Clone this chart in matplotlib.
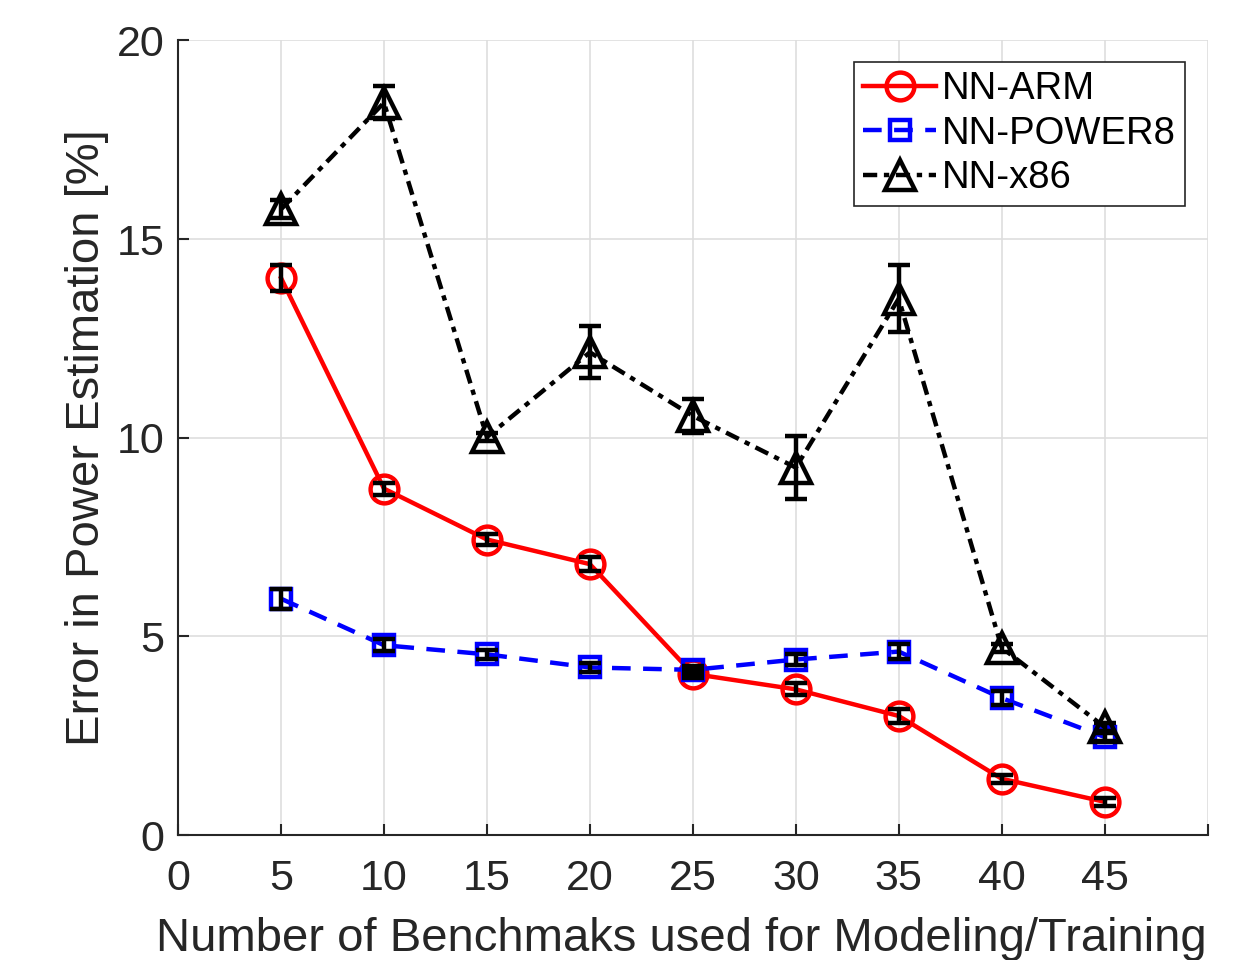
import numpy as np
import matplotlib.pyplot as plt

plt.rcParams['font.family'] = ['Liberation Sans', 'DejaVu Sans']

# number of benchmarks used
n_bench = [5, 10, 15, 20, 25, 30, 35, 40, 45]

# NN-ARM
arm = [14.02, 8.72, 7.44, 6.82, 4.06, 3.67, 3.0, 1.42, 0.84]
arm_err = [0.32, 0.15, 0.15, 0.18, 0.1, 0.15, 0.18, 0.1, 0.1]

# NN-POWER8
power8 = [5.95, 4.78, 4.55, 4.22, 4.16, 4.42, 4.62, 3.45, 2.47]
power8_err = [0.25, 0.15, 0.12, 0.12, 0.1, 0.15, 0.18, 0.18, 0.1]

# NN-x86
x86 = [15.75, 18.43, 10.02, 12.15, 10.55, 9.25, 13.5, 4.72, 2.72]
x86_err = [0.22, 0.42, 0.1, 0.65, 0.42, 0.8, 0.85, 0.1, 0.1]

TXT = '#262626'

def makePlot():
    fig = plt.figure(figsize=(12.54, 9.6), dpi=100)
    ax = fig.add_axes([0.142, 0.130, 0.821, 0.828])

    series = [
        (arm, arm_err, 'NN-ARM', (1, 0, 0), 'o', (None, None), 20),
        (power8, power8_err, 'NN-POWER8', (0, 0, 1), 's', (4.2, 2.8), 15),
        (x86, x86_err, 'NN-x86', 'k', '^', (3.2, 1.5, 1.2, 1.5), 21),
    ]
    handles = []
    for y, e, name, col, mk, dash, ms in series:
        line, = ax.plot(n_bench, y, color=col, lw=3.2, marker=mk, ms=ms,
                        mfc='none', mec=col, mew=3.2, label=name, zorder=3)
        if dash[0] is not None:
            line.set_dashes(dash)
        ax.errorbar(n_bench, y, yerr=e, fmt='none', ecolor='k',
                    elinewidth=3.2, capsize=8, capthick=3.2, zorder=4)
        handles.append(line)

    ax.set_xlim(0, 50)
    ax.set_ylim(0, 20)
    ax.set_xticks(np.arange(0, 51, 5))
    ax.set_xticklabels([str(v) for v in range(0, 50, 5)] + [''])
    ax.set_yticks([0, 5, 10, 15, 20])

    ax.grid(True, color='#dedede', lw=1.2)
    ax.set_axisbelow(True)
    for s in ['top', 'right']:
        ax.spines[s].set_visible(False)
    for s in ['left', 'bottom']:
        ax.spines[s].set_color(TXT)
        ax.spines[s].set_linewidth(1.5)
    ax.tick_params(direction='in', length=8, width=1.5, colors=TXT,
                   labelsize=31)
    ax.tick_params(axis='x', pad=17)
    ax.tick_params(axis='y', pad=10)

    ax.set_xlabel('Number of Benchmaks used for Modeling/Training',
                  fontsize=34, color=TXT, labelpad=13)
    ax.xaxis.label.set_x(0.489)
    ax.set_ylabel('Error in Power Estimation [%]', fontsize=34,
                  color=TXT, labelpad=5)

    leg = ax.legend(handles=handles, loc='upper right',
                    bbox_to_anchor=(0.978, 0.973), fontsize=27.5,
                    fancybox=False, framealpha=1, edgecolor='#262626',
                    handlelength=1.9, handletextpad=0.15, borderpad=0.25,
                    borderaxespad=0, labelspacing=0.22)
    leg.get_frame().set_linewidth(1.2)

    fig.savefig('out.png', dpi=100, facecolor='white')

makePlot()
